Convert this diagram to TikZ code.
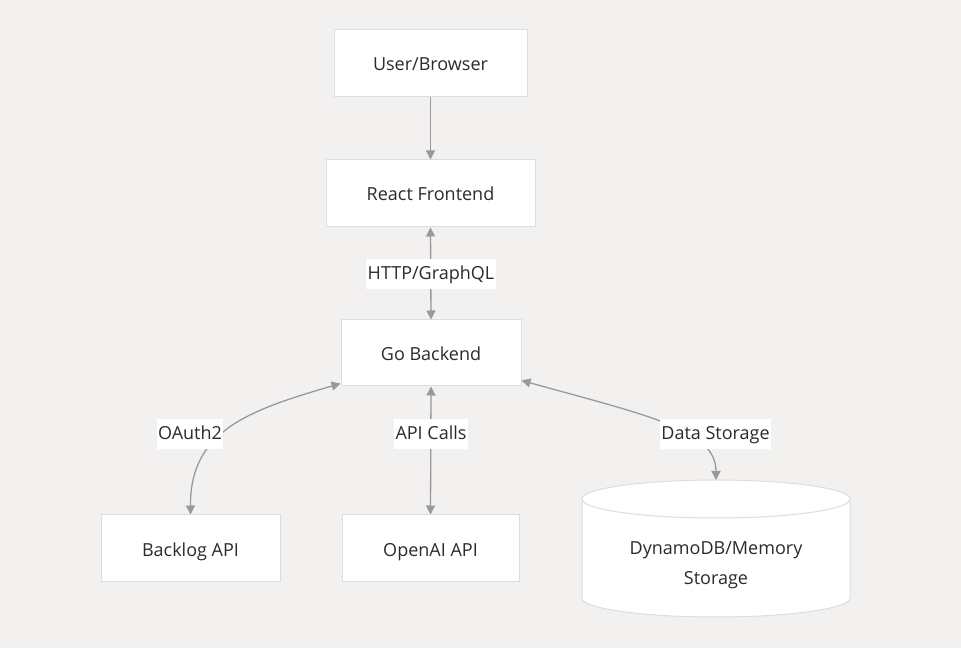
\documentclass[tikz,border=0pt]{standalone}
\usepackage{fontspec}
\setmainfont{Open Sans}
\usetikzlibrary{arrows.meta}
\definecolor{bgc}{HTML}{F2F1EF}
\definecolor{boxline}{HTML}{DDDDDD}
\definecolor{edgec}{HTML}{999999}
\definecolor{txtc}{HTML}{2B2B2B}
\begin{document}
\begin{tikzpicture}[x=1pt,y=1pt,
  every node/.style={font=\fontsize{18}{22}\selectfont, text=txtc},
  procbox/.style={draw=boxline, line width=1pt, fill=white, minimum height=67pt, inner sep=0pt, text height=19pt, text depth=4pt},
  edgelabel/.style={fill=white, inner xsep=1.5pt, inner ysep=0pt, minimum height=30pt, text height=16pt, text depth=4pt},
  conn/.style={draw=edgec, line width=1.3pt},
  tip/.style={-{Triangle[length=9pt,width=9pt]}},
  tips/.style={{Triangle[length=9pt,width=9pt]}-{Triangle[length=9pt,width=9pt]}}]
\useasboundingbox[fill=bgc] (0,0) rectangle (961,648);
% nodes
\node[procbox, minimum width=193pt] (user) at (430.5,584.5) {User/Browser};
\node[procbox, minimum width=209pt] (react) at (430.5,454.5) {React Frontend};
\node[procbox, minimum width=180pt, minimum height=66pt] (go) at (431,295) {Go Backend};
\node[procbox, minimum width=179pt] (backlog) at (190.5,99.5) {Backlog API};
\node[procbox, minimum width=177pt] (openai) at (430.5,99.5) {OpenAI API};
% cylinder
\draw[draw=boxline, line width=1pt, fill=white]
  (582,149) -- (582,50) arc[start angle=180, end angle=360, x radius=134, y radius=19]
  -- (850,149) arc[start angle=0, end angle=180, x radius=134, y radius=19] -- cycle;
\draw[draw=boxline, line width=1pt]
  (582,149) arc[start angle=180, end angle=360, x radius=134, y radius=19];
\node[align=center, inner sep=0pt] (db) at (716,83) {DynamoDB/Memory\\[8pt]Storage};
\coordinate (dbtop) at (716,168);
% edges
\draw[conn, tip] (user.south) -- (react.north);
\draw[conn, tips] (react.south) -- (go.north);
\draw[conn, tips] ([yshift=3pt]go.south west) .. controls (250,238) and (190,218) .. (backlog.north);
\draw[conn, tips] (go.south) -- (openai.north);
\draw[conn, tips] ([yshift=6pt]go.south east) .. controls (650,232) and (716,218) .. (dbtop);
% labels
\node[edgelabel] (lhttp) at (431,374) {HTTP/GraphQL};
\node[edgelabel] (loauth) at (190,214) {OAuth2};
\node[edgelabel] (lapi) at (431,214) {API Calls};
\node[edgelabel] (ldata) at (715.5,214) {Data Storage};
\end{tikzpicture}
\end{document}
